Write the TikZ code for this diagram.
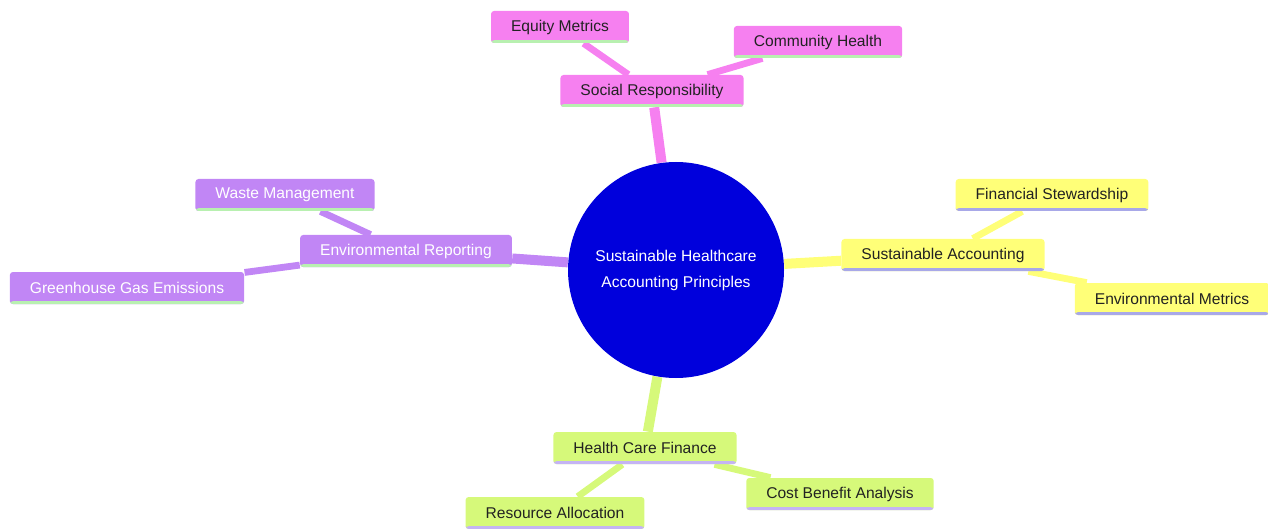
\documentclass[tikz,border=0pt]{standalone}
\usepackage{fontspec}
\setmainfont{Liberation Sans}
\usetikzlibrary{backgrounds}
\definecolor{pinkc}{HTML}{F680F0}
\definecolor{purpc}{HTML}{C186F5}
\definecolor{yelc}{HTML}{FFFF78}
\definecolor{grnc}{HTML}{D6F97A}
\definecolor{rootc}{HTML}{0000DC}
\definecolor{ulgreen}{HTML}{B8F0B0}
\definecolor{ullav}{HTML}{A8A8E8}
\definecolor{ullav2}{HTML}{C4B4F4}
\definecolor{txt}{HTML}{222222}
\tikzset{
  x=0.5pt, y=-0.5pt,
  mm/.style={rectangle, rounded corners=1.5pt, inner xsep=10pt, inner ysep=0pt,
    minimum height=16pt, font=\fontsize{7.8}{9}\selectfont},
  uline/.style={path picture={\fill[#1] ([yshift=1.4pt]path picture bounding box.south west) rectangle (path picture bounding box.south east);}},
  pinkn/.style={mm, fill=pinkc, text=txt, uline=ulgreen},
  purpn/.style={mm, fill=purpc, text=white, uline=ulgreen},
  yeln/.style={mm, fill=yelc, text=txt, uline=ullav},
  grnn/.style={mm, fill=grnc, text=txt, uline=ullav2},
  rootn/.style={circle, fill=rootc, text=white, minimum size=108pt, inner sep=0pt,
    align=center, font=\fontsize{7.8}{13}\selectfont},
  e1/.style={line width=5pt},
  e2/.style={line width=3.4pt},
}
\begin{document}
\begin{tikzpicture}
\useasboundingbox (0,0) rectangle (1268,529);
\node[rootn] (root) at (676,270) {Sustainable Healthcare\\Accounting Principles};
\node[pinkn] (soc) at (652,91) {Social Responsibility};
\node[pinkn] (eq) at (560,27) {Equity Metrics};
\node[pinkn] (com) at (818,42) {Community Health};
\node[purpn] (env) at (406,251) {Environmental Reporting};
\node[purpn] (waste) at (285,195) {Waste Management};
\node[purpn] (ghg) at (127,288) {Greenhouse Gas Emissions};
\node[yeln] (sa) at (943,255) {Sustainable Accounting};
\node[yeln] (fs) at (1052,195) {Financial Stewardship};
\node[yeln] (em) at (1172,299) {Environmental Metrics};
\node[grnn] (hcf) at (645,448) {Health Care Finance};
\node[grnn] (ra) at (555,513) {Resource Allocation};
\node[grnn] (cba) at (840,494) {Cost Benefit Analysis};
\begin{scope}[on background layer]
\draw[e1, pinkc] (root) -- (soc);
\draw[e2, pinkc] (soc) -- (eq);
\draw[e2, pinkc] (soc) -- (com);
\draw[e1, purpc] (root) -- (env);
\draw[e2, purpc] (env) -- (waste);
\draw[e2, purpc] (env) -- (ghg);
\draw[e1, yelc] (root) -- (sa);
\draw[e2, yelc] (sa) -- (fs);
\draw[e2, yelc] (sa) -- (em);
\draw[e1, grnc] (root) -- (hcf);
\draw[e2, grnc] (hcf) -- (ra);
\draw[e2, grnc] (hcf) -- (cba);
\end{scope}
\end{tikzpicture}
\end{document}
